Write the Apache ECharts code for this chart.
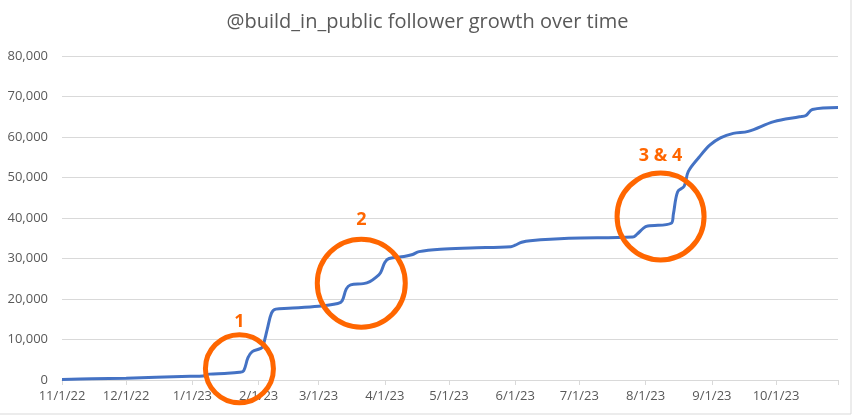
<!DOCTYPE html>
<html>
<head>
<meta charset="utf-8">
<script src="https://cdn.jsdelivr.net/npm/echarts@6/dist/echarts.min.js"></script>
<style>html,body{margin:0;padding:0;background:#fff}#c{width:855px;height:417px}</style>
</head>
<body>
<div id="c"></div>
<script>
const titleText = '@build_in_public follower growth over time';

const dates = [
  '2022-11-01','2022-11-15','2022-12-01','2022-12-15','2022-12-31','2023-01-06','2023-01-09','2023-01-16',
  '2023-01-23','2023-01-25','2023-01-27','2023-01-29','2023-02-02','2023-02-03','2023-02-05','2023-02-07',
  '2023-02-09','2023-02-15','2023-03-01','2023-03-10','2023-03-12','2023-03-14','2023-03-16','2023-03-22',
  '2023-03-25','2023-03-28','2023-03-30','2023-04-01','2023-04-03','2023-04-10','2023-04-14','2023-04-17',
  '2023-04-27','2023-05-11','2023-05-30','2023-06-01','2023-06-04','2023-06-08','2023-06-26','2023-07-26',
  '2023-07-28','2023-07-31','2023-08-02','2023-08-13','2023-08-14','2023-08-16','2023-08-19','2023-08-21',
  '2023-08-26','2023-08-31','2023-09-05','2023-09-11','2023-09-18','2023-09-30','2023-10-12','2023-10-15',
  '2023-10-18','2023-10-30'
];
const followers = [
  150, 300, 450, 650, 900, 1000, 1450, 1600,
  1900, 2300, 5500, 7000, 7800, 8400, 12500, 16500,
  17500, 17700, 18200, 18900, 19500, 22500, 23500, 23800,
  24300, 25400, 26500, 29000, 30000, 30500, 31000, 31700,
  32300, 32600, 32900, 33300, 34000, 34400, 35000, 35300,
  36000, 37500, 38000, 38700, 41000, 46500, 47800, 51500,
  55000, 58000, 59800, 60900, 61400, 63800, 65000, 65300,
  66800, 67300
];

const xTickDates = ['2022-11-01','2022-12-01','2023-01-01','2023-02-01','2023-03-01','2023-04-01','2023-05-01',
  '2023-06-01','2023-07-01','2023-08-01','2023-09-01','2023-10-01'];
const xTickLabels = ['11/1/22','12/1/22','1/1/23','2/1/23','3/1/23','4/1/23','5/1/23','6/1/23','7/1/23','8/1/23','9/1/23','10/1/23'];
const xStart = '2022-11-01';
const xEnd = '2023-10-30';

const yMin = 0, yMax = 80000, yStep = 10000;

const annotationLabels = ['1', '2', '3 & 4'];
const annotationDates = ['2023-01-23', '2023-03-21', '2023-08-08'];
const annotationValues = [2800, 23900, 40400];
const annotationSizes = [68, 88, 87];
const annotationLabelGap = [1, 8, 6];

// day number since xStart (UTC-based, no DST issues)
function dayNum(s) {
  const p = s.split('-').map(Number);
  const q = xStart.split('-').map(Number);
  return Math.round((Date.UTC(p[0], p[1] - 1, p[2]) - Date.UTC(q[0], q[1] - 1, q[2])) / 86400000);
}

const tickDays = xTickDates.map(dayNum);
const labelMap = {};
tickDays.forEach((t, i) => { labelMap[t] = xTickLabels[i]; });

const chart = echarts.init(document.getElementById('c'), null, { renderer: 'canvas' });
const FONT = "'Open Sans', 'Liberation Sans', sans-serif";
chart.setOption({
  animation: false,
  backgroundColor: '#fff',
  title: {
    text: titleText, left: 'center', top: 7,
    textStyle: { fontFamily: FONT, fontSize: 20, fontWeight: 'normal', color: '#595959' }
  },
  grid: { left: 62, right: 17, top: 56, bottom: 37, containLabel: false, outerBoundsMode: 'none' },
  xAxis: {
    type: 'value', min: 0, max: dayNum(xEnd),
    axisLine: { show: true, onZero: false, lineStyle: { color: '#d9d9d9', width: 1 } },
    axisTick: { show: true, length: 5, lineStyle: { color: '#d9d9d9' }, customValues: tickDays.concat([dayNum(xEnd)]) },
    axisLabel: {
      customValues: tickDays, margin: 10, color: '#595959', fontFamily: FONT, fontSize: 13,
      formatter: v => labelMap[v] !== undefined ? labelMap[v] : ''
    },
    splitLine: { show: false }
  },
  yAxis: {
    type: 'value', min: yMin, max: yMax, interval: yStep,
    axisLine: { show: false }, axisTick: { show: false },
    axisLabel: { margin: 14, color: '#595959', fontFamily: FONT, fontSize: 13,
      formatter: v => v.toLocaleString('en-US') },
    splitLine: { lineStyle: { color: '#d9d9d9', width: 1 } }
  },
  series: [{
    type: 'line',
    data: dates.map((d, i) => [dayNum(d), followers[i]]),
    showSymbol: false, symbol: 'none',
    smooth: 0.35,
    lineStyle: { color: '#4472C4', width: 3 },
    z: 2,
    markPoint: {
      symbol: 'circle',
      silent: true,
      itemStyle: { color: 'rgba(0,0,0,0)', borderColor: '#FF6600', borderWidth: 5 },
      label: { show: true, position: 'top', distance: 8, color: '#FF6600', fontFamily: FONT,
        fontSize: 18, fontWeight: 'bold', formatter: p => p.name },
      data: annotationLabels.map((n, i) => ({
        name: n, coord: [dayNum(annotationDates[i]), annotationValues[i]], symbolSize: annotationSizes[i],
        label: { distance: annotationLabelGap[i] }
      }))
    }
  }],
  graphic: [{
    type: 'rect', shape: { x: -2, y: -2, width: 853, height: 416 },
    style: { fill: 'none', stroke: '#d9d9d9', lineWidth: 1 }, silent: true
  }]
});
</script>
</body>
</html>
